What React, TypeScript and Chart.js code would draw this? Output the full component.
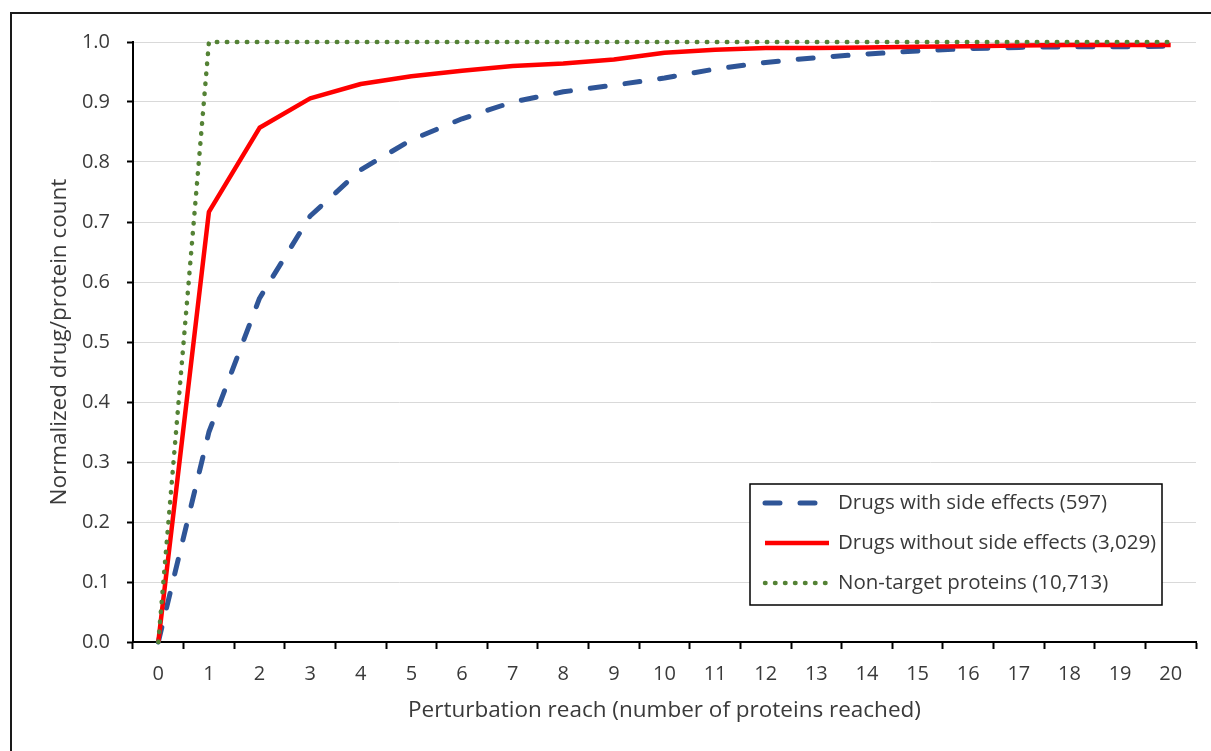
import React, { useEffect, useRef } from 'react';
import { Chart, registerables } from 'chart.js';

Chart.register(...registerables);

// ---- data ----
const X_LABELS = ['0', '1', '2', '3', '4', '5', '6', '7', '8', '9', '10', '11', '12', '13', '14', '15', '16', '17', '18', '19', '20'];

const WITH_SIDE_EFFECTS = [0, 0.35, 0.573, 0.71, 0.787, 0.837, 0.872, 0.9, 0.917, 0.928, 0.94, 0.955, 0.966, 0.974, 0.98, 0.985, 0.989, 0.991, 0.992, 0.992, 0.993];
const WITHOUT_SIDE_EFFECTS = [0, 0.717, 0.857, 0.906, 0.93, 0.943, 0.952, 0.96, 0.964, 0.971, 0.982, 0.987, 0.99, 0.99, 0.991, 0.992, 0.993, 0.994, 0.995, 0.995, 0.995];
const NON_TARGET = [0, 1, 1, 1, 1, 1, 1, 1, 1, 1, 1, 1, 1, 1, 1, 1, 1, 1, 1, 1, 1];

const SERIES_LABELS = [
  'Drugs with side effects (597)',
  'Drugs without side effects (3,029)',
  'Non-target proteins (10,713)',
];

const X_TITLE = 'Perturbation reach (number of proteins reached)';
const Y_TITLE = 'Normalized drug/protein count';
const Y_MIN = 0;
const Y_MAX = 1;
const Y_STEP = 0.1;

const FONT = '"Open Sans", "DejaVu Sans", sans-serif';
const TEXT_COLOR = '#3a3a3a';

const boxLegend = {
  id: 'boxLegend',
  afterDraw(chart: any) {
    const { ctx, chartArea } = chart;
    const left = chartArea.right - 446;
    const top = chartArea.bottom - 158;
    const w = 412;
    const h = 121;
    ctx.save();
    ctx.fillStyle = '#ffffff';
    ctx.fillRect(left, top, w, h);
    ctx.strokeStyle = '#000000';
    ctx.lineWidth = 1.5;
    ctx.setLineDash([]);
    ctx.strokeRect(left, top, w, h);
    chart.data.datasets.forEach((ds: any, i: number) => {
      const y = top + 19 + i * 40;
      ctx.beginPath();
      ctx.strokeStyle = ds.borderColor;
      ctx.lineWidth = ds.borderWidth;
      ctx.setLineDash(ds.borderDash || []);
      ctx.lineCap = ds.borderCapStyle || 'butt';
      ctx.moveTo(left + 15, y);
      ctx.lineTo(left + 79, y);
      ctx.stroke();
      ctx.setLineDash([]);
      ctx.fillStyle = TEXT_COLOR;
      ctx.font = `20.5px ${FONT}`;
      ctx.textBaseline = 'middle';
      ctx.textAlign = 'left';
      ctx.fillText(ds.label, left + 88, y);
    });
    ctx.restore();
  },
};

export default function App() {
  const ref = useRef<HTMLCanvasElement>(null);

  useEffect(() => {
    if (!ref.current) return;
    const chart = new Chart(ref.current, {
      type: 'line',
      data: {
        labels: X_LABELS,
        datasets: [
          {
            label: SERIES_LABELS[0],
            data: WITH_SIDE_EFFECTS,
            borderColor: '#2F5597',
            borderWidth: 5,
            borderDash: [15, 20],
            borderCapStyle: 'round',
            borderJoinStyle: 'round',
            pointRadius: 0,
            tension: 0,
            fill: false,
            order: 2,
            clip: false,
          },
          {
            label: SERIES_LABELS[1],
            data: WITHOUT_SIDE_EFFECTS,
            borderColor: '#FF0000',
            borderWidth: 4.5,
            borderCapStyle: 'butt',
            borderJoinStyle: 'round',
            pointRadius: 0,
            tension: 0,
            fill: false,
            order: 1,
            clip: false,
          },
          {
            label: SERIES_LABELS[2],
            data: NON_TARGET,
            borderColor: '#548235',
            borderWidth: 4.5,
            borderDash: [0.5, 9.5],
            borderCapStyle: 'round',
            borderJoinStyle: 'round',
            pointRadius: 0,
            tension: 0,
            fill: false,
            order: 0,
            clip: false,
          },
        ],
      } as any,
      options: {
        responsive: false,
        animation: false,
        devicePixelRatio: 1,
        layout: { padding: { top: 42, right: 15, left: 0, bottom: 0 } },
        font: { family: FONT },
        plugins: {
          legend: { display: false },
          tooltip: { enabled: false },
        },
        scales: {
          x: {
            type: 'category',
            offset: true,
            grid: {
              display: true,
              drawOnChartArea: false,
              drawTicks: true,
              tickLength: 7,
              tickColor: '#000000',
              tickWidth: 2,
              offset: true,
            },
            border: { display: true, color: '#000000', width: 2 },
            ticks: {
              color: TEXT_COLOR,
              font: { family: FONT, size: 20 },
              padding: 13,
              maxRotation: 0,
              autoSkip: false,
            },
            title: {
              display: true,
              text: X_TITLE,
              color: TEXT_COLOR,
              font: { family: FONT, size: 22.5 },
              padding: { top: 0, bottom: 27 },
            },
            afterFit: (s: any) => {
              s.height = 109;
            },
          },
          y: {
            type: 'linear',
            min: Y_MIN,
            max: Y_MAX,
            ticks: {
              stepSize: Y_STEP,
              color: TEXT_COLOR,
              font: { family: FONT, size: 20 },
              padding: 17,
              callback: (v: any) => Number(v).toFixed(1),
            },
            grid: {
              color: '#d9d9d9',
              lineWidth: 1,
              tickColor: '#000000',
              tickWidth: 2,
              tickLength: 6,
            },
            border: { display: true, color: '#000000', width: 2 },
            title: {
              display: true,
              text: Y_TITLE,
              color: TEXT_COLOR,
              font: { family: FONT, size: 22.5 },
              padding: { top: 46.5, bottom: 0 },
            },
            afterFit: (s: any) => {
              s.width = 133;
            },
          },
        },
      } as any,
      plugins: [boxLegend],
    });
    return () => chart.destroy();
  }, []);

  return (
    <div
      style={{
        position: 'absolute',
        left: 0,
        top: 0,
        width: 1211,
        height: 751,
        overflow: 'hidden',
        background: '#ffffff',
      }}
    >
      <div
        style={{
          position: 'absolute',
          left: 10,
          top: 12,
          width: 1260,
          height: 800,
          borderLeft: '2px solid #1a1a1a',
          borderTop: '2px solid #1a1a1a',
          boxSizing: 'border-box',
        }}
      />
      <canvas
        ref={ref}
        width={1211}
        height={751}
        style={{ position: 'absolute', left: 0, top: 0, width: 1211, height: 751 }}
      />
    </div>
  );
}
